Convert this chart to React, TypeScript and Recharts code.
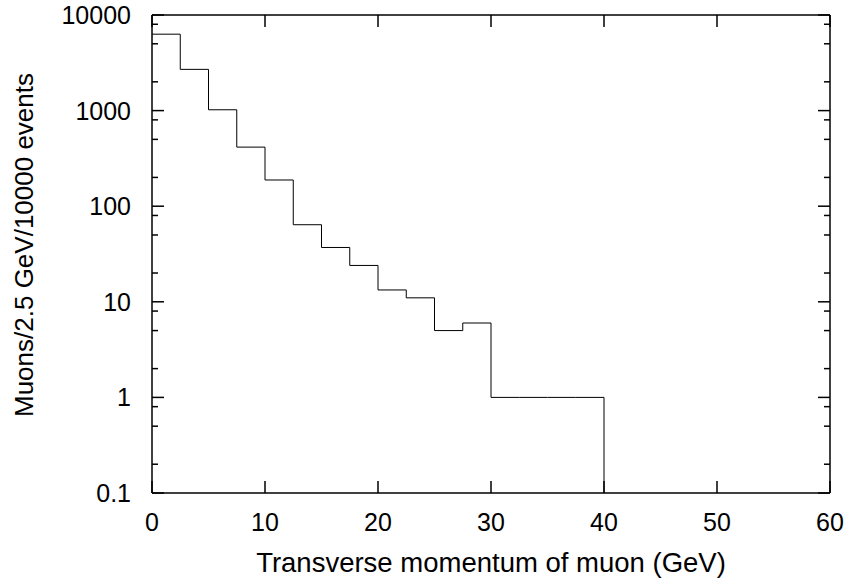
import React from 'react';
import { LineChart, Line, XAxis, YAxis, ReferenceLine } from 'recharts';

// Histogram of transverse momentum of muon (bins of 2.5 GeV)
const binStarts = [0, 2.5, 5, 7.5, 10, 12.5, 15, 17.5, 20, 22.5, 25, 27.5, 30, 32.5, 35, 37.5];
const binCounts = [6300, 2700, 1020, 415, 188, 64, 37, 24, 13.3, 11, 5, 6, 1, 1, 1, 1];
const lastEdge = 40;

const xTicks = [0, 10, 20, 30, 40, 50, 60];
const yTicks = [
  0.1, 0.2, 0.5, 0.8,
  1, 2, 5, 8,
  10, 20, 50, 80,
  100, 200, 500, 800,
  1000, 2000, 5000, 8000,
  10000,
];
const xDomain: [number, number] = [0, 60];
const yDomain: [number, number] = [0.1, 10000];

const xLabel = 'Transverse momentum of muon (GeV)';
const yLabel = 'Muons/2.5 GeV/10000 events';

const data = [
  ...binStarts.map((x, i) => ({ x, y: binCounts[i] })),
  { x: lastEdge, y: binCounts[binCounts.length - 1] },
  { x: lastEdge, y: yDomain[0] },
];

const W = 846;
const H = 582;
const M = { top: 15, right: 16, left: 0, bottom: 0 };
const Y_AXIS_W = 152;
const X_AXIS_H = 89;
const PLOT_W = W - Y_AXIS_W - M.right;
const PLOT_H = H - M.top - X_AXIS_H;

const FONT = '"Liberation Sans", Arial, Helvetica, sans-serif';
const AXIS_STROKE = 1.5;
const TICK_FONT = 25;

const isDecade = (v: number) => {
  const l = Math.log10(v);
  return Math.abs(l - Math.round(l)) < 1e-9;
};

const YTick = (props: any) => {
  const { x, y, payload } = props;
  const v = payload.value;
  const major = isDecade(v);
  const len = major ? 12 : 6;
  return (
    <g>
      <line x1={x} x2={x + len} y1={y} y2={y} stroke="#000" strokeWidth={AXIS_STROKE} />
      <line x1={x + PLOT_W} x2={x + PLOT_W - len} y1={y} y2={y} stroke="#000" strokeWidth={AXIS_STROKE} />
      {major && (
        <text x={x - 21} y={y + 9} textAnchor="end" fontSize={TICK_FONT} fontFamily={FONT} fill="#000">
          {String(v)}
        </text>
      )}
    </g>
  );
};

const XTick = (props: any) => {
  const { x, y, payload } = props;
  return (
    <g>
      <line x1={x} x2={x} y1={y} y2={y - 12} stroke="#000" strokeWidth={AXIS_STROKE} />
      <line x1={x} x2={x} y1={y - PLOT_H} y2={y - PLOT_H + 12} stroke="#000" strokeWidth={AXIS_STROKE} />
      <text x={x} y={y + 38} textAnchor="middle" fontSize={TICK_FONT} fontFamily={FONT} fill="#000">
        {String(payload.value)}
      </text>
    </g>
  );
};

export default function App() {
  return (
    <div style={{ position: 'absolute', left: 0, top: 0, width: W, height: H, background: '#fff' }}>
      <LineChart width={W} height={H} data={data} margin={M}>
        <XAxis
          dataKey="x"
          type="number"
          domain={xDomain}
          ticks={xTicks}
          interval={0}
          height={X_AXIS_H}
          tickSize={0}
          tickMargin={0}
          tickLine={false}
          axisLine={{ stroke: '#000', strokeWidth: AXIS_STROKE }}
          tick={<XTick />}
          allowDataOverflow
        />
        <YAxis
          type="number"
          scale="log"
          domain={yDomain}
          ticks={yTicks}
          interval={0}
          width={Y_AXIS_W}
          tickSize={0}
          tickMargin={0}
          tickLine={false}
          axisLine={{ stroke: '#000', strokeWidth: AXIS_STROKE }}
          tick={<YTick />}
          allowDataOverflow
        />
        <ReferenceLine y={yDomain[1]} stroke="#000" strokeWidth={AXIS_STROKE} ifOverflow="visible" />
        <ReferenceLine x={xDomain[1]} stroke="#000" strokeWidth={AXIS_STROKE} ifOverflow="visible" />
        <Line
          type="stepAfter"
          dataKey="y"
          stroke="#000"
          strokeWidth={1}
          dot={false}
          activeDot={false}
          isAnimationActive={false}
        />
        <text x={M.left + Y_AXIS_W + PLOT_W / 2} y={572} textAnchor="middle" fontSize={27.5} fontFamily={FONT} fill="#000">
          {xLabel}
        </text>
        <text
          transform={`translate(33, 245) rotate(-90)`}
          textAnchor="middle"
          fontSize={26}
          fontFamily={FONT}
          fill="#000"
        >
          {yLabel}
        </text>
      </LineChart>
    </div>
  );
}
